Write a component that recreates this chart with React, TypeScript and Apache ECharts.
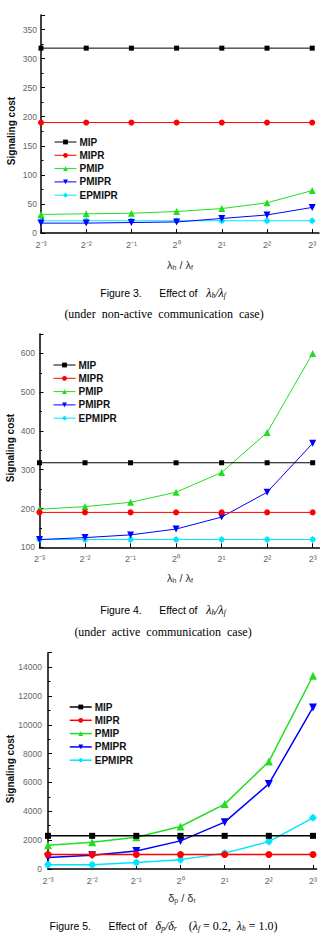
import React, { useEffect, useRef } from 'react';
import * as echarts from 'echarts';

// x positions are powers of two: 2^-3 ... 2^3
const exponents = [-3, -2, -1, 0, 1, 2, 3];
const tickLabels = ['2⁻³', '2⁻²', '2⁻¹', '2⁰', '2¹', '2²', '2³'];
const seriesNames = ['MIP', 'MIPR', 'PMIP', 'PMIPR', 'EPMIPR'];

// Figure 3 (non-active communication)
const fig3MIP = [318, 318, 318, 318, 318, 318, 318];
const fig3MIPR = [190, 190, 190, 190, 190, 190, 190];
const fig3PMIP = [32, 33, 34, 37, 42, 52, 73];
const fig3PMIPR = [17, 17, 18, 19, 25, 31, 44];
const fig3EPMIPR = [21, 21, 21, 21, 21, 21, 21];

// Figure 4 (active communication)
const fig4MIP = [318, 318, 318, 318, 318, 318, 318];
const fig4MIPR = [190, 190, 190, 190, 190, 190, 190];
const fig4PMIP = [198, 205, 216, 242, 293, 396, 600];
const fig4PMIPR = [120, 125, 132, 147, 178, 242, 368];
const fig4EPMIPR = [120, 120, 120, 120, 120, 120, 120];

// Figure 5 (delta_p / delta_r)
const fig5MIP = [2300, 2300, 2300, 2300, 2300, 2300, 2300];
const fig5MIPR = [1000, 1000, 1000, 1000, 1000, 1000, 1000];
const fig5PMIP = [1650, 1850, 2200, 2950, 4500, 7450, 13400];
const fig5PMIPR = [800, 950, 1250, 1950, 3250, 5900, 11200];
const fig5EPMIPR = [300, 300, 450, 650, 1100, 1900, 3550];

const figData = [
  [fig3MIP, fig3MIPR, fig3PMIP, fig3PMIPR, fig3EPMIPR],
  [fig4MIP, fig4MIPR, fig4PMIP, fig4PMIPR, fig4EPMIPR],
  [fig5MIP, fig5MIPR, fig5PMIP, fig5PMIPR, fig5EPMIPR],
];

const yMin = [0, 100, 0];
const yMax = [375, 650, 15000];
const yInterval = [50, 100, 2000];

const colors = ['#000000', '#ff0000', '#22dd22', '#0000ff', '#00e5ff'];
const starPath =
  'path://M0,-10 L5,-5 L10,0 L5,5 L0,10 L-5,5 L-10,0 L-5,-5 Z M-7,-7 L0,-4 L7,-7 L4,0 L7,7 L0,4 L-7,7 L-4,0 Z';
const symbols = ['rect', 'circle', 'triangle', 'triangle', starPath];
const symbolRotates = [0, 0, 0, 180, 0];

const grids = [
  { left: 41, top: 15, width: 278, height: 218 },
  { left: 39.5, top: 334, width: 280, height: 213.3 },
  { left: 48, top: 652.7, width: 272, height: 216.3 },
];
const xMax = [3.15, 3.15, 3.08];
const symbolSizes = [
  [5, 6, 7, 7, 7],
  [5, 6, 7, 7, 7],
  [6, 7, 8, 8, 8],
];
const lineWidths = [1, 1, 1.5];
const legendPos = [
  { left: 54, top: 137 },
  { left: 53, top: 360 },
  { left: 69, top: 702 },
];
const yLabelMargin = [4, 4.5, 6];
const yTitleY = [131, 448, 769];
const yTitleX = [11, 10, 10];

export default function App() {
  const ref = useRef<HTMLDivElement>(null);

  useEffect(() => {
    if (!ref.current) return;
    const chart = echarts.init(ref.current, undefined, { renderer: 'svg' });

    const series: any[] = [];
    figData.forEach((set, gi) => {
      set.forEach((vals, si) => {
        series.push({
          type: 'line',
          name: seriesNames[si],
          xAxisIndex: gi,
          yAxisIndex: gi,
          data: exponents.map((x, k) => [x, vals[k]]),
          symbol: symbols[si],
          symbolRotate: symbolRotates[si],
          symbolSize: symbolSizes[gi][si],
          showSymbol: true,
          z: 10 - si,
          itemStyle: { color: colors[si] },
          lineStyle: { color: colors[si], width: lineWidths[gi] },
        });
      });
    });

    const capRich = {
      s: { fill: '#000', fontSize: 10.5, fontFamily: 'Liberation Sans' },
      mi: { fill: '#000', fontSize: 12, fontFamily: 'Liberation Serif', fontStyle: 'italic' },
      m: { fill: '#000', fontSize: 12, fontFamily: 'Liberation Serif' },
      sub: {
        fill: '#000',
        fontSize: 7.5,
        fontFamily: 'Liberation Serif',
        fontStyle: 'italic',
        padding: [5, 0, 0, 0],
      },
    };
    const axRich = {
      g: { fill: '#333', fontSize: 11, fontFamily: 'Liberation Sans' },
      sub: { fill: '#333', fontSize: 7, fontFamily: 'Liberation Sans', padding: [5, 0, 0, 0] },
    };

    const graphic: any[] = [];
    [0, 1, 2].forEach((gi) => {
      graphic.push({
        type: 'text',
        x: yTitleX[gi],
        y: yTitleY[gi],
        rotation: Math.PI / 2,
        style: {
          text: 'Signaling cost',
          fill: '#111',
          fontSize: 10,
          fontWeight: 'bold',
          fontFamily: 'Liberation Sans',
          align: 'center',
          verticalAlign: 'middle',
        },
      });
    });
    graphic.push(
      {
        type: 'text',
        x: 180,
        y: 265,
        style: { text: '{g|λ}{sub|h}{g| / λ}{sub|f}', rich: axRich, align: 'center', verticalAlign: 'middle' },
      },
      {
        type: 'text',
        x: 180,
        y: 578,
        style: { text: '{g|λ}{sub|h}{g| / λ}{sub|f}', rich: axRich, align: 'center', verticalAlign: 'middle' },
      },
      {
        type: 'text',
        x: 182,
        y: 898,
        style: { text: '{g|δ}{sub|p}{g| / δ}{sub|r}', rich: axRich, align: 'center', verticalAlign: 'middle' },
      },
      {
        type: 'text',
        x: 163,
        y: 293,
        style: {
          text: '{s|Figure 3.      Effect of   }{mi|λ}{sub|h}{mi|/λ}{sub|f}',
          rich: capRich,
          align: 'center',
          verticalAlign: 'middle',
        },
      },
      {
        type: 'text',
        x: 164,
        y: 314,
        style: {
          text: '(under  non-active  communication  case)',
          fill: '#000',
          fontSize: 12,
          fontFamily: 'Liberation Serif',
          align: 'center',
          verticalAlign: 'middle',
        },
      },
      {
        type: 'text',
        x: 163,
        y: 610,
        style: {
          text: '{s|Figure 4.      Effect of   }{mi|λ}{sub|h}{mi|/λ}{sub|f}',
          rich: capRich,
          align: 'center',
          verticalAlign: 'middle',
        },
      },
      {
        type: 'text',
        x: 163,
        y: 632,
        style: {
          text: '(under  active  communication  case)',
          fill: '#000',
          fontSize: 12,
          fontFamily: 'Liberation Serif',
          align: 'center',
          verticalAlign: 'middle',
        },
      },
      {
        type: 'text',
        x: 163.5,
        y: 926,
        style: {
          text:
            '{s|Figure 5.      Effect of   }{mi|δ}{sub|p}{mi|/δ}{sub|r}{m|    (}{mi|λ}{sub|f}{m| = 0.2,  }{mi|λ}{sub|h}{m| = 1.0)}',
          rich: capRich,
          align: 'center',
          verticalAlign: 'middle',
        },
      }
    );

    const option: any = {
      animation: false,
      backgroundColor: '#ffffff',
      grid: grids.map((g) => ({ ...g, containLabel: false })),
      xAxis: [0, 1, 2].map((gi) => ({
        type: 'value',
        gridIndex: gi,
        min: -3,
        max: xMax[gi],
        interval: 1,
        axisLine: { show: true, onZero: false, lineStyle: { color: '#000', width: 1.5 } },
        axisTick: {
          show: true,
          inside: true,
          length: 4,
          lineStyle: { color: '#000', width: 1 },
          customValues: exponents,
        },
        axisLabel: {
          customValues: exponents,
          formatter: (v: number) => {
            const i = exponents.indexOf(Math.round(v * 1000) / 1000);
            return i >= 0 ? tickLabels[i] : '';
          },
          color: '#666',
          fontSize: 9,
          fontFamily: 'Liberation Sans',
          margin: 7,
        },
        splitLine: { show: false },
      })),
      yAxis: [0, 1, 2].map((gi) => ({
        type: 'value',
        gridIndex: gi,
        min: yMin[gi],
        max: yMax[gi],
        interval: yInterval[gi],
        axisLine: { show: true, onZero: false, lineStyle: { color: '#000', width: 1.5 } },
        axisTick: { show: true, inside: true, length: 4, lineStyle: { color: '#000', width: 1 } },
        minorTick: { show: true, splitNumber: 2, length: 2.5, lineStyle: { color: '#000', width: 1 } },
        axisLabel: {
          formatter: (v: number) => (v % yInterval[gi] === 0 ? String(v) : ''),
          color: '#666',
          fontSize: 8.5,
          fontFamily: 'Liberation Sans',
          margin: yLabelMargin[gi],
        },
        splitLine: { show: false },
        minorSplitLine: { show: false },
      })),
      legend: [0, 1, 2].map((gi) => ({
        orient: 'vertical',
        left: legendPos[gi].left,
        top: legendPos[gi].top,
        itemWidth: 22,
        itemHeight: 6,
        itemGap: 3.3,
        padding: 0,
        selectedMode: false,
        data: seriesNames,
        lineStyle: { width: lineWidths[gi] },
        textStyle: {
          fontSize: 10,
          fontWeight: 'bold',
          fontFamily: 'Liberation Sans',
          color: '#111',
          lineHeight: 10,
          padding: [0, 0, 0, -2],
        },
      })),
      graphic,
      series,
    };

    chart.setOption(option);
    return () => chart.dispose();
  }, []);

  return (
    <div
      ref={ref}
      style={{ position: 'absolute', left: 0, top: 0, width: 320, height: 936, background: '#fff' }}
    />
  );
}
